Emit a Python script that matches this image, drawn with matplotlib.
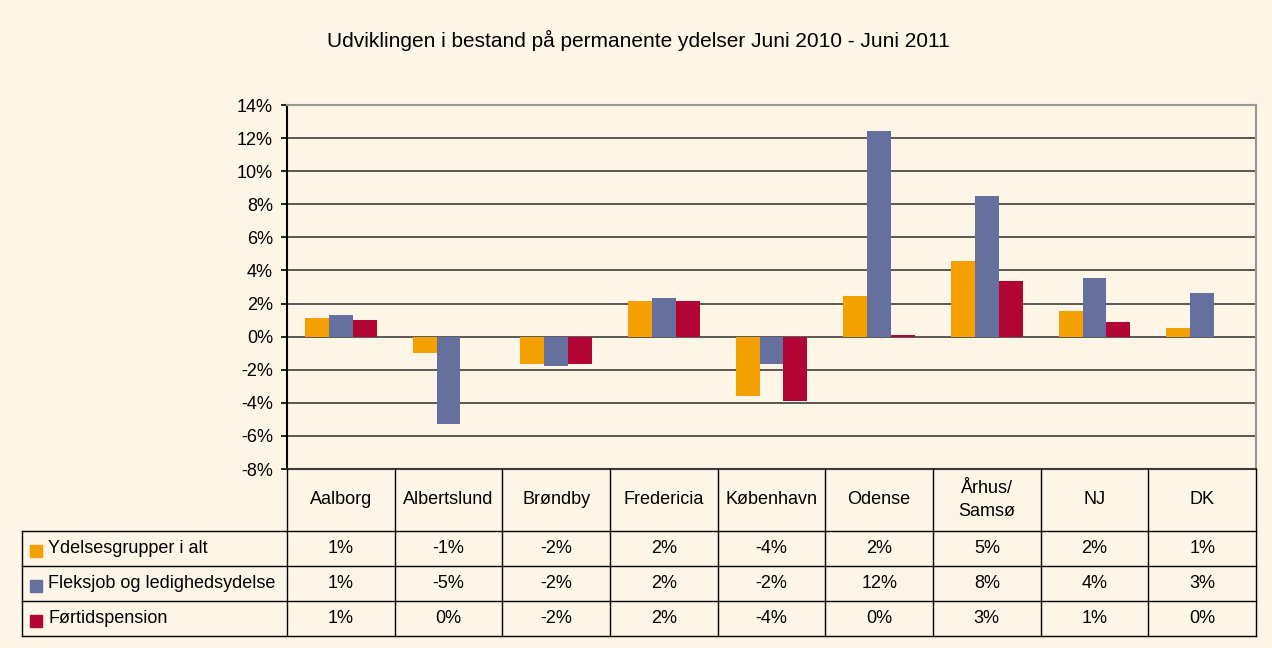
import matplotlib
matplotlib.use('Agg')
import matplotlib.pyplot as plt
import numpy as np

plt.rcParams['font.family'] = ['Liberation Sans', 'DejaVu Sans']

# data (percent)
kommuner = ['Aalborg', 'Albertslund', 'Brøndby', 'Fredericia', 'København',
            'Odense', 'Århus/\nSamsø', 'NJ', 'DK']
serie_navne = ['Ydelsesgrupper i alt', 'Fleksjob og ledighedsydelse', 'Førtidspension']
ydelser_i_alt = [1.14, -0.96, -1.68, 2.16, -3.6, 2.45, 4.6, 1.56, 0.54]
fleksjob = [1.32, -5.27, -1.8, 2.34, -1.68, 12.4, 8.5, 3.52, 2.63]
foertid = [1.02, 0.0, -1.68, 2.16, -3.9, 0.1, 3.35, 0.9, 0.0]
farver = ['#F4A000', '#66709E', '#B30535']
yticks = list(range(-8, 15, 2))

bg = '#FDF5E6'
W, H = 1272, 648
left, right, top, bottom = 287, 1256, 105, 469
rows_y = [469, 531, 566, 601, 636]
tab_left = 22
fs = 13

fig = plt.figure(figsize=(W / 100, H / 100), dpi=100, facecolor=bg)
ax = fig.add_axes([left / W, 1 - bottom / H, (right - left) / W, (bottom - top) / H])
ax.set_facecolor(bg)

x = np.arange(len(kommuner))
w = 1 / 4.5
for i, vals in enumerate([ydelser_i_alt, fleksjob, foertid]):
    ax.bar(x + (i - 1) * w, vals, w, color=farver[i], zorder=3)

ax.set_xlim(-0.5, len(kommuner) - 0.5)
ax.set_ylim(-8, 14)
ax.set_yticks(yticks)
ax.set_yticklabels([f'{t}%' for t in yticks], fontsize=fs)
ax.set_xticks([])
ax.grid(axis='y', color='#2e2e2e', linewidth=1.1, zorder=1)
ax.tick_params(axis='y', length=4, width=1.2, pad=6, color='black')
for s in ['top', 'right']:
    ax.spines[s].set_color('#999999')
    ax.spines[s].set_linewidth(1.5)
ax.spines['left'].set_linewidth(1.5)
ax.spines['bottom'].set_linewidth(1.5)
ax.spines['bottom'].set_color('#3a3a3a')

fig.text(638 / W, 1 - 40 / H, 'Udviklingen i bestand på permanente ydelser Juni 2010 - Juni 2011',
         ha='center', va='center', fontsize=15)

# data table underneath, drawn in pixel space
tax = fig.add_axes([0, 0, 1, 1], facecolor='none')
tax.set_xlim(0, W)
tax.set_ylim(H, 0)
tax.axis('off')
col_w = (right - left) / len(kommuner)
edges = [left + k * col_w for k in range(len(kommuner) + 1)]
lc = 'black'
for e in edges:
    tax.plot([e, e], [rows_y[0], rows_y[-1]], color=lc, lw=1)
tax.plot([tab_left, tab_left], [rows_y[1], rows_y[-1]], color=lc, lw=1)
for yy in rows_y[1:]:
    tax.plot([tab_left, right], [yy, yy], color=lc, lw=1)

for k, navn in enumerate(kommuner):
    cx = (edges[k] + edges[k + 1]) / 2
    tax.text(cx, (rows_y[0] + rows_y[1]) / 2, navn, ha='center', va='center',
             fontsize=fs, linespacing=1.5)

for r, (navn, vals) in enumerate(zip(serie_navne, [ydelser_i_alt, fleksjob, foertid])):
    cy = (rows_y[r + 1] + rows_y[r + 2]) / 2
    tax.add_patch(plt.Rectangle((30, cy - 4), 12, 12, color=farver[r]))
    tax.text(48, cy, navn, ha='left', va='center', fontsize=fs)
    for k, v in enumerate(vals):
        cx = (edges[k] + edges[k + 1]) / 2
        tax.text(cx, cy, f'{round(v):.0f}%', ha='center', va='center', fontsize=fs)

fig.savefig('out.png', dpi=100, facecolor=bg)
